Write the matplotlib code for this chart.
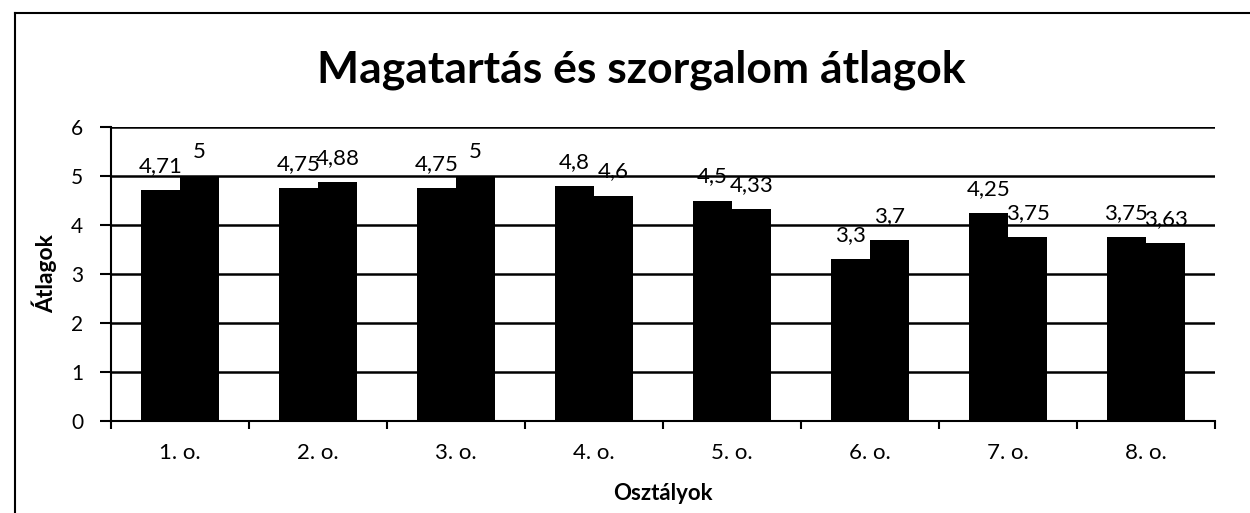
import matplotlib.pyplot as plt
from matplotlib.lines import Line2D
import numpy as np

# adatok
osztalyok = ["1. o.", "2. o.", "3. o.", "4. o.", "5. o.", "6. o.", "7. o.", "8. o."]
magatartas = [4.71, 4.75, 4.75, 4.8, 4.5, 3.3, 4.25, 3.75]
szorgalom = [5, 4.88, 5, 4.6, 4.33, 3.7, 3.75, 3.63]
y_ticks = [0, 1, 2, 3, 4, 5, 6]

plt.rcParams['font.family'] = ['Lato', 'DejaVu Sans']

fig = plt.figure(figsize=(12.5, 5.13), dpi=100)
ax = fig.add_axes([111 / 1250, 1 - 421 / 513, 1104 / 1250, 294 / 513])

x = np.arange(len(osztalyok))
w = 0.286
ax.bar(x - w / 2, magatartas, width=w, color="black", zorder=3)
ax.bar(x + w / 2, szorgalom, width=w, color="black", zorder=3)

def felirat(v):
    return f"{v:g}".replace(".", ",")

for i in range(len(osztalyok)):
    ax.annotate(felirat(magatartas[i]), (x[i] - w / 2, magatartas[i]), xytext=(0, 13),
                textcoords="offset points", ha="center", va="baseline", fontsize=16)
    ax.annotate(felirat(szorgalom[i]), (x[i] + w / 2, szorgalom[i]), xytext=(0, 13),
                textcoords="offset points", ha="center", va="baseline", fontsize=16)

ax.set_xlim(-0.5, len(osztalyok) - 0.5)
ax.set_ylim(0, 6)
ax.set_yticks(y_ticks)
ax.set_xticks(x)
ax.set_xticklabels(osztalyok, fontsize=16)
ax.set_xticks(np.arange(len(osztalyok) + 1) - 0.5, minor=True)
ax.tick_params(axis="x", which="major", length=0, pad=16)
ax.tick_params(axis="x", which="minor", length=6, width=1.5, direction="out")
ax.tick_params(axis="y", length=8, width=1.5, labelsize=15, pad=12)

ax.yaxis.grid(True, color="black", linewidth=1.8, zorder=0)
for s in ["top", "right"]:
    ax.spines[s].set_visible(False)
ax.spines["left"].set_linewidth(1.5)
ax.spines["bottom"].set_linewidth(1.5)

ax.set_ylabel("Átlagok", fontsize=16.5, fontweight="bold", labelpad=10)
ax.set_xlabel("Osztályok", fontsize=16, fontweight="bold", labelpad=14)

fig.text(0.513, 1 - 70 / 513, "Magatartás és szorgalom átlagok", ha="center", va="center",
         fontsize=32, fontweight="bold")

# keret
fig.add_artist(Line2D([15 / 1250, 1.0], [1 - 13 / 513, 1 - 13 / 513], color="black", linewidth=1.5))
fig.add_artist(Line2D([15 / 1250, 15 / 1250], [0, 1 - 13 / 513], color="black", linewidth=1.5))

fig.savefig("out.png", dpi=100)
